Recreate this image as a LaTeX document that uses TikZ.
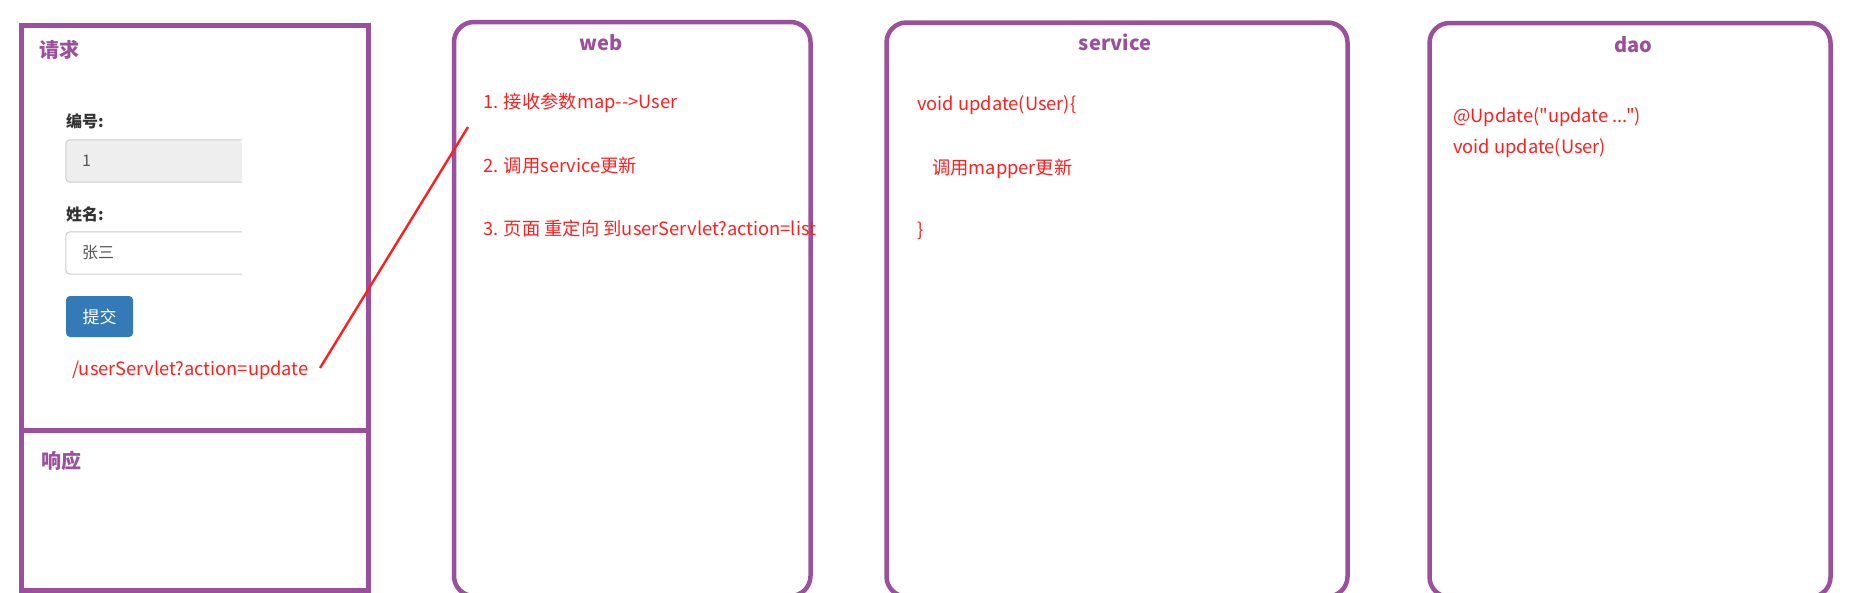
\documentclass[tikz,border=0pt]{standalone}
\usepackage{fontspec}
\newfontfamily\cjkfont{Noto Sans CJK SC}
\usetikzlibrary{positioning}
\definecolor{layerpurple}{HTML}{9C4F9C}
\definecolor{notered}{HTML}{FF1E1E}
\definecolor{labelgray}{HTML}{333333}
\definecolor{valuegray}{HTML}{555555}
\definecolor{fieldline}{HTML}{CCCCCC}
\definecolor{fieldfill}{HTML}{EEEEEE}
\definecolor{btnblue}{HTML}{337AB7}

\begin{document}
\begin{tikzpicture}[x=1pt,y=-1pt,
   frame/.style={draw=layerpurple,line width=5pt,inner sep=0pt},
   layer/.style={draw=layerpurple,line width=4.5pt,rounded corners=20pt,
      inner sep=0pt,minimum height=574pt,minimum width=#1},
   heading/.style={text=layerpurple,font=\cjkfont\bfseries\fontsize{20}{24}\selectfont,inner sep=0pt},
   note/.style={text=notered,font=\cjkfont\fontsize{18.3}{22}\selectfont,anchor=base west,inner sep=0pt},
   label/.style={text=labelgray,font=\cjkfont\bfseries\fontsize{16}{20}\selectfont,anchor=base west,inner sep=0pt},
   field/.style={fill=#1,rounded corners=4pt,minimum width=176pt,minimum height=42pt,inner sep=0pt},
   value/.style={text=valuegray,font=\cjkfont\fontsize{16}{20}\selectfont,inner sep=0pt},
   button/.style={fill=btnblue,rounded corners=4pt,text=white,minimum width=67pt,minimum height=41pt,
      font=\cjkfont\fontsize{17}{20}\selectfont,inner sep=0pt},
   link/.style={draw=notered,line width=2.4pt}]
   \useasboundingbox (0,0) rectangle (1851,592);
   \clip (0,0) rectangle (1851,592);

   % client page: request / response
   \node[frame,minimum width=347pt,minimum height=564.5pt] (client) at (195,307.75) {};
   \coordinate (split) at (195,430.5);
   \draw[frame] (split -| client.west) -- (split -| client.east);
   \node[heading,anchor=base west] (reqtitle) at (39,57.5) {请求};
   \node[heading,anchor=base west] (resptitle) at (41,468.5) {响应};

   % form
   \node[label] (idlabel) at (66,127.5) {编号:};
   \node[field=fieldfill] (idfield) at (154,161) {};
   \draw[fieldline,line width=1pt,rounded corners=4pt]
      (idfield.north east) -| (idfield.south west) -- (idfield.south east);
   \node[value,anchor=west,right=16pt of idfield.west] (idvalue) {1};
   \node[label] (namelabel) at (66,220) {姓名:};
   \node[field=white] (namefield) at (154,253) {};
   \draw[fieldline,line width=1pt,rounded corners=4pt]
      (namefield.north east) -| (namefield.south west) -- (namefield.south east);
   \node[value,anchor=west,right=16pt of namefield.west] (namevalue) {张三};
   \node[button] (submit) at (99.5,316.5) {提交};
   \node[note] (url) at (72,375) {/userServlet?action=update};

   % layers
   \node[layer=356.5pt] (web) at (632.25,309) {};
   \node[layer=461pt] (service) at (1117,309.5) {};
   \node[layer=401pt] (dao) at (1630,310) {};
   \node[heading,anchor=base] (webtitle) at (601,50) {web};
   \node[heading,anchor=base] (servicetitle) at (1115,50) {service};
   \node[heading,anchor=base] (daotitle) at (1633,52) {dao};

   \node[note] (web1) at (483,108) {1. 接收参数map-->User};
   \node[note] (web2) at (483,172.5) {2. 调用service更新};
   \node[note] (web3) at (483,235.5) {3. 页面 重定向 到userServlet?action=list};

   \node[note] (svc1) at (917,110) {void update(User)\{};
   \node[note] (svc2) at (932,174) {调用mapper更新};
   \node[note] (svc3) at (917,236) {\}};

   \node[note] (dao1) at (1453,122.5) {@Update("update ...")};
   \node[note] (dao2) at (1453,153.5) {void update(User)};

   % request goes to web
   \coordinate (sent) at (320,368);
   \coordinate (received) at (468,127);
   \draw[link] (sent) -- (received);
\end{tikzpicture}
\end{document}
